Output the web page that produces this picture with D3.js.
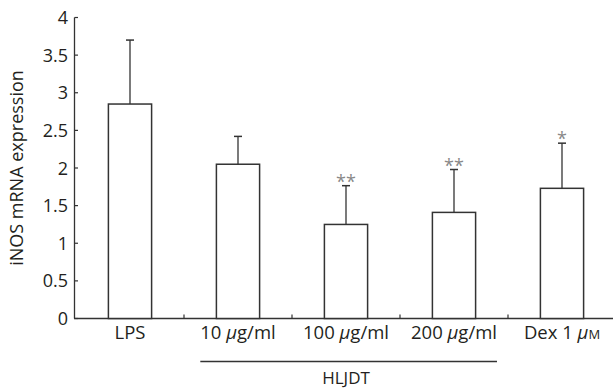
<!DOCTYPE html>
<html>
<head>
<meta charset="utf-8">
<script src="https://cdn.jsdelivr.net/npm/d3@7"></script>
<style>
  body { margin: 0; background: #fff; }
  text { font-family: "Open Sans", sans-serif; fill: #231f20; }
</style>
</head>
<body>
<svg id="chart" width="613" height="389"></svg>
<script>
const categories = ["LPS", "10 μg/ml", "100 μg/ml", "200 μg/ml", "Dex 1 μM"];
const means = [2.85, 2.05, 1.25, 1.41, 1.73];
const errors = [0.85, 0.37, 0.515, 0.57, 0.6];
const marks = ["", "", "**", "**", "*"];
const yTicks = [0, 0.5, 1, 1.5, 2, 2.5, 3, 3.5, 4];
const groupLabel = "HLJDT";
const groupMembers = ["10 μg/ml", "100 μg/ml", "200 μg/ml"];

const svg = d3.select("#chart");
const ink = "#333";

const x = d3.scaleBand().domain(categories).range([76, 616]);
const y = d3.scaleLinear().domain([0, 4]).range([318.5, 17.5]);
const barW = x.bandwidth() * 0.4;

// y axis
svg.append("line")
  .attr("x1", 74.5).attr("x2", 74.5)
  .attr("y1", y(4)).attr("y2", y(0))
  .attr("stroke", ink).attr("stroke-width", 1.3);

svg.selectAll(".ytick")
  .data(yTicks)
  .enter()
  .append("line")
  .attr("x1", 74.5).attr("x2", 78)
  .attr("y1", d => y(d)).attr("y2", d => y(d))
  .attr("stroke", ink).attr("stroke-width", 1.2);

svg.selectAll(".ylab")
  .data(yTicks)
  .enter()
  .append("text")
  .attr("x", 68)
  .attr("y", d => y(d) + 6.5)
  .attr("text-anchor", "end")
  .attr("font-size", 18)
  .text(d => d);

svg.append("text")
  .attr("transform", "translate(23,168) rotate(-90)")
  .attr("text-anchor", "middle")
  .attr("font-size", 18)
  .text("iNOS mRNA expression");

// x axis
svg.append("line")
  .attr("x1", 74).attr("x2", 613)
  .attr("y1", y(0)).attr("y2", y(0))
  .attr("stroke", ink).attr("stroke-width", 1.3);

svg.selectAll(".xtick")
  .data(categories.slice(0, -1))
  .enter()
  .append("line")
  .attr("x1", d => x(d) + x.bandwidth()).attr("x2", d => x(d) + x.bandwidth())
  .attr("y1", y(0)).attr("y2", y(0) - 4)
  .attr("stroke", ink).attr("stroke-width", 1.2);

// bars
const data = categories.map((c, i) => ({ c, m: means[i], e: errors[i], s: marks[i] }));

svg.selectAll(".bar")
  .data(data)
  .enter()
  .append("rect")
  .attr("x", d => x(d.c) + x.bandwidth() / 2 - barW / 2)
  .attr("y", d => y(d.m))
  .attr("width", barW)
  .attr("height", d => y(0) - y(d.m))
  .attr("fill", "#fff")
  .attr("stroke", ink)
  .attr("stroke-width", 1.5);

// error bars
const err = svg.selectAll(".err").data(data).enter().append("g");
err.append("line")
  .attr("x1", d => x(d.c) + x.bandwidth() / 2)
  .attr("x2", d => x(d.c) + x.bandwidth() / 2)
  .attr("y1", d => y(d.m))
  .attr("y2", d => y(d.m + d.e))
  .attr("stroke", ink).attr("stroke-width", 1.3);
err.append("line")
  .attr("x1", d => x(d.c) + x.bandwidth() / 2 - 4)
  .attr("x2", d => x(d.c) + x.bandwidth() / 2 + 4)
  .attr("y1", d => y(d.m + d.e))
  .attr("y2", d => y(d.m + d.e))
  .attr("stroke", ink).attr("stroke-width", 1.5);

svg.selectAll(".star")
  .data(data.filter(d => d.s))
  .enter()
  .append("text")
  .attr("x", d => x(d.c) + x.bandwidth() / 2)
  .attr("y", d => y(d.m + d.e) + 2)
  .attr("text-anchor", "middle")
  .attr("font-family", "Liberation Serif")
  .attr("font-size", 18)
  .style("fill", "#888")
  .text(d => d.s);

// category labels, with italic mu and small-cap unit
const labels = svg.selectAll(".xlab")
  .data(categories)
  .enter()
  .append("text")
  .attr("x", d => x(d) + x.bandwidth() / 2)
  .attr("y", 339)
  .attr("text-anchor", "middle")
  .attr("font-size", 18.5);

labels.each(function (d) {
  const t = d3.select(this);
  const parts = d.split("μ");
  t.append("tspan").text(parts[0]);
  if (parts.length > 1) {
    t.append("tspan").attr("font-style", "italic").text("μ");
    const rest = parts[1];
    if (rest === "M") {
      t.append("tspan").attr("font-size", 13).text(rest);
    } else {
      t.append("tspan").text(rest);
    }
  }
});

// group bracket under HLJDT doses
const memberBoxes = labels.filter(d => groupMembers.includes(d)).nodes().map(n => n.getBBox());
const gx0 = d3.min(memberBoxes, b => b.x);
const gx1 = d3.max(memberBoxes, b => b.x + b.width);

svg.append("line")
  .attr("x1", gx0).attr("x2", gx1)
  .attr("y1", 361.5).attr("y2", 361.5)
  .attr("stroke", ink).attr("stroke-width", 1.3);

svg.append("text")
  .attr("x", x(groupMembers[1]) + x.bandwidth() / 2)
  .attr("y", 383.5)
  .attr("text-anchor", "middle")
  .attr("font-size", 17)
  .text(groupLabel);
</script>
</body>
</html>
